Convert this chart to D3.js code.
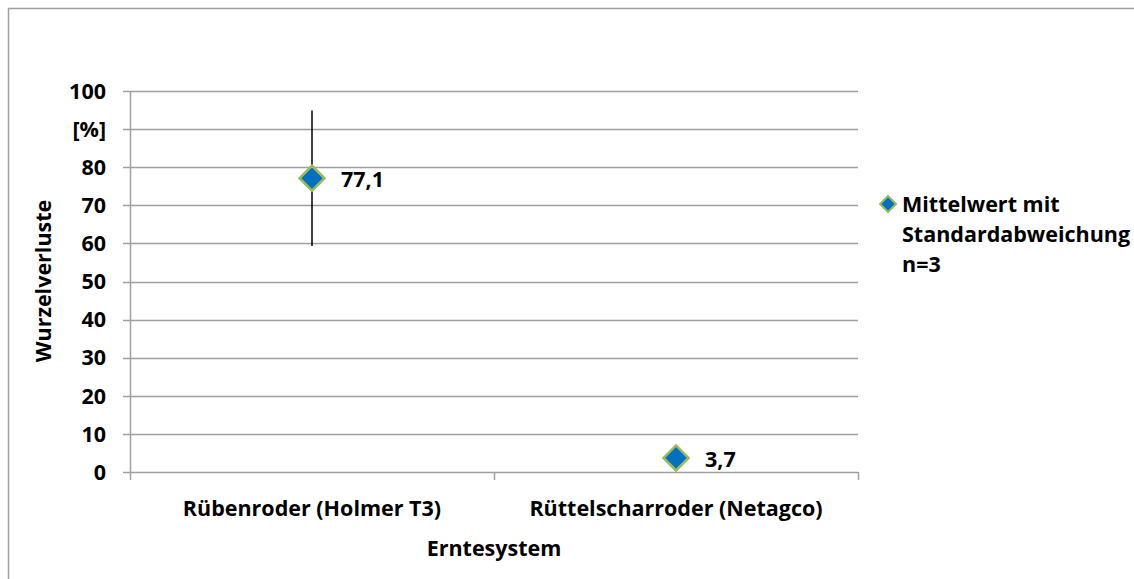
<!DOCTYPE html>
<html><head><meta charset="utf-8">
<script src="https://cdn.jsdelivr.net/npm/d3@7"></script>
<style>body{margin:0;background:#fff}svg{display:block}text{font-family:"Open Sans",sans-serif;font-weight:bold;fill:#000}</style>
</head><body>
<script>
const categories = ["Rübenroder (Holmer T3)", "Rüttelscharroder (Netagco)"];
const means = [77.1, 3.7];
const sds = [17.8, 0.8];
const labels = ["77,1", "3,7"];
const yTicks = [0, 10, 20, 30, 40, 50, 60, 70, 80, 90, 100];
const yTickLabels = ["0", "10", "20", "30", "40", "50", "60", "70", "80", "[%]", "100"];
const legendLines = ["Mittelwert mit", "Standardabweichung", "n=3"];

const W = 1134, H = 579, FS = 21.5;
const svg = d3.select("body").append("svg").attr("width", W).attr("height", H);
svg.append("rect").attr("x", 8.5).attr("y", 8.5).attr("width", W + 10).attr("height", H + 10)
  .attr("fill", "#fff").attr("stroke", "#a0a0a0").attr("stroke-width", 1.5);

const L = 130, R = 858, T = 91, B = 472;
const x = d3.scaleBand().domain(categories).range([L, R]);
const y = d3.scaleLinear().domain([0, 100]).range([B, T]);

svg.append("g").selectAll("line").data(yTicks).join("line")
  .attr("x1", L - 7).attr("x2", R).attr("y1", d => Math.round(y(d)) + 0.5).attr("y2", d => Math.round(y(d)) + 0.5)
  .attr("stroke", "#a0a0a0").attr("stroke-width", 1.5);
svg.append("line").attr("x1", L + 0.5).attr("x2", L + 0.5).attr("y1", T).attr("y2", B)
  .attr("stroke", "#a0a0a0").attr("stroke-width", 1.5);
const xb = [L, L + x.bandwidth(), R];
svg.append("g").selectAll("line").data(xb).join("line")
  .attr("x1", d => d + 0.5).attr("x2", d => d + 0.5).attr("y1", B).attr("y2", B + 8)
  .attr("stroke", "#a0a0a0").attr("stroke-width", 1.5);
svg.append("g").selectAll("text").data(yTicks).join("text")
  .attr("x", 106).attr("y", d => y(d)).attr("dy", "0.36em").attr("text-anchor", "end")
  .attr("font-size", FS).text((d, i) => yTickLabels[i]);
svg.append("g").selectAll("text").data(categories).join("text")
  .attr("x", d => x(d) + x.bandwidth() / 2).attr("y", 516).attr("text-anchor", "middle")
  .attr("font-size", FS).text(d => d);
svg.append("text").attr("x", 494).attr("y", 556).attr("text-anchor", "middle").attr("font-size", FS).text("Erntesystem");
svg.append("text").attr("transform", "translate(51,281) rotate(-90)").attr("text-anchor", "middle").attr("font-size", FS).text("Wurzelverluste");

svg.append("g").selectAll("line").data(categories).join("line")
  .attr("x1", d => x(d) + x.bandwidth() / 2).attr("x2", d => x(d) + x.bandwidth() / 2)
  .attr("y1", (d, i) => y(means[i] + sds[i])).attr("y2", (d, i) => y(means[i] - sds[i]))
  .attr("stroke", "#000").attr("stroke-width", 1.5);
const diamond = s => `M0,${-s}L${s},0L0,${s}L${-s},0Z`;
svg.append("g").selectAll("path").data(categories).join("path")
  .attr("transform", (d, i) => `translate(${x(d) + x.bandwidth() / 2},${y(means[i])})`)
  .attr("d", diamond(12.5)).attr("fill", "#0070C0").attr("stroke", "#9BBB59").attr("stroke-width", 2.5);
svg.append("g").selectAll("text").data(categories).join("text")
  .attr("x", d => x(d) + x.bandwidth() / 2 + 29).attr("y", (d, i) => y(means[i]) + 1).attr("dy", "0.36em")
  .attr("font-size", FS).text((d, i) => labels[i]);

svg.append("path").attr("transform", "translate(888,204)").attr("d", diamond(8))
  .attr("fill", "#0070C0").attr("stroke", "#9BBB59").attr("stroke-width", 2);
svg.append("g").selectAll("text").data(legendLines).join("text")
  .attr("x", 902).attr("y", (d, i) => 212 + i * 30).attr("font-size", FS).text(d => d);
</script>
</body></html>
